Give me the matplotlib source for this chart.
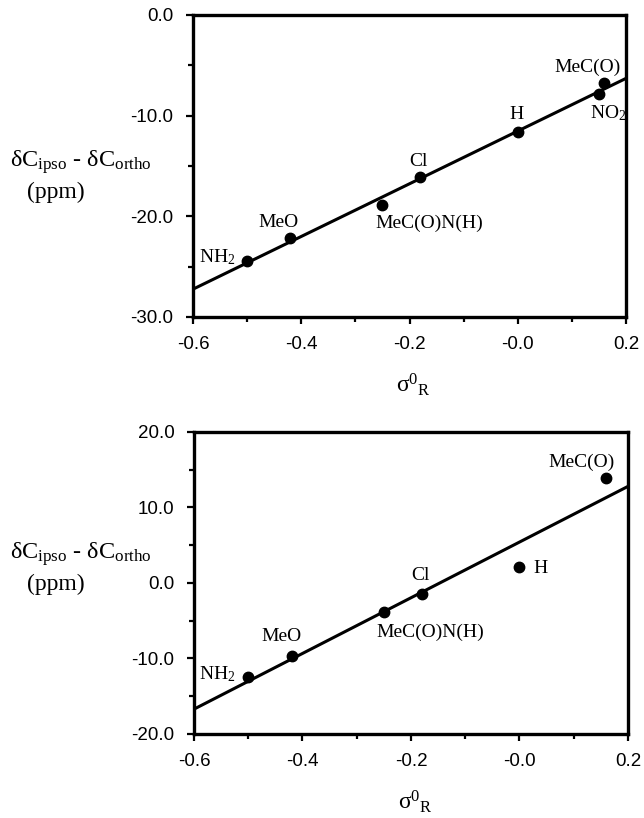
import numpy as np
import matplotlib
matplotlib.use('Agg')
import matplotlib.pyplot as plt
from matplotlib.ticker import MultipleLocator

plt.rcParams['mathtext.fontset'] = 'custom'
plt.rcParams['mathtext.rm'] = 'Liberation Serif'
plt.rcParams['mathtext.it'] = 'Liberation Serif:italic'
plt.rcParams['mathtext.bf'] = 'Liberation Serif:bold'

# ---- data ----
top_labels = ['NH$_2$', 'MeO', 'MeC(O)N(H)', 'Cl', 'H', 'MeC(O)', 'NO$_2$']
top_sigma = [-0.50, -0.42, -0.25, -0.18, 0.00, 0.16, 0.15]
top_shift = [-24.45, -22.2, -18.9, -16.1, -11.6, -6.8, -7.9]

bot_labels = ['NH$_2$', 'MeO', 'MeC(O)N(H)', 'Cl', 'H', 'MeC(O)']
bot_sigma = [-0.50, -0.42, -0.25, -0.18, 0.00, 0.16]
bot_shift = [-12.45, -9.67, -3.8, -1.46, 2.1, 13.9]

x_ticks = [-0.6, -0.4, -0.2, 0.0, 0.2]
x_ticklabels = ['-0.6', '-0.4', '-0.2', '-0.0', '0.2']
top_yticks = [0, -10, -20, -30]
top_yticklabels = ['0.0', '-10.0', '-20.0', '-30.0']
bot_yticks = [20, 10, 0, -10, -20]
bot_yticklabels = ['20.0', '10.0', '0.0', '-10.0', '-20.0']

# label offsets in pixels (style)
top_offsets = [(-30, 4), (-12, 16), (47, -18), (-2, 16), (-1, 17), (-17, 16), (9, -19)]
bot_offsets = [(-31, 3), (-10, 19), (46, -21), (-1, 19), (21, -1), (-25, 16)]

fig = plt.figure(figsize=(6.44, 8.18), dpi=100)
fig.patch.set_facecolor('white')


def draw(ax, xs, ys, labels, offsets, yticks, yticklabels, ylim):
    xs = np.asarray(xs)
    ys = np.asarray(ys)
    slope, icpt = np.polyfit(xs, ys, 1)
    xl = np.array([-0.6, 0.2])
    ax.plot(xl, slope * xl + icpt, color='black', lw=2.2, solid_capstyle='butt')
    ax.plot(xs, ys, 'o', color='black', ms=7.5)
    for x, y, lab, (dx, dy) in zip(xs, ys, labels, offsets):
        ax.annotate(lab, (x, y), xytext=(dx, dy), textcoords='offset pixels',
                    ha='center', va='center', fontsize=14,
                    family='Liberation Serif')
    ax.set_xlim(-0.6, 0.2)
    ax.set_ylim(*ylim)
    ax.set_xticks(x_ticks)
    ax.set_xticklabels(x_ticklabels)
    ax.set_yticks(yticks)
    ax.set_yticklabels(yticklabels)
    ax.xaxis.set_minor_locator(MultipleLocator(0.1))
    ax.yaxis.set_minor_locator(MultipleLocator(5))
    ax.tick_params(which='both', direction='out', width=1.6, top=False, right=False,
                   labelsize=13.5)
    ax.tick_params(which='major', length=5)
    ax.tick_params(which='minor', length=3.5)
    ax.tick_params(axis='y', which='major', pad=9)
    ax.tick_params(axis='x', which='major', pad=9)
    for lab in ax.get_xticklabels() + ax.get_yticklabels():
        lab.set_family('Liberation Sans')
    for sp in ax.spines.values():
        sp.set_linewidth(2.4)


ax1 = fig.add_axes([0.2997, 0.6125, 0.6724, 0.3692])
draw(ax1, top_sigma, top_shift, top_labels, top_offsets,
     top_yticks, top_yticklabels, (-30, 0))

ax2 = fig.add_axes([0.3012, 0.1027, 0.6739, 0.3692])
draw(ax2, bot_sigma, bot_shift, bot_labels, bot_offsets,
     bot_yticks, bot_yticklabels, (-20, 20))

ylab1 = r'δC$_{\mathrm{ipso}}$ - δC$_{\mathrm{ortho}}$'
for base1, base2 in [(0.7958, 0.7579), (0.3166, 0.2787)]:
    fig.text(0.0155, base1, ylab1, ha='left', va='baseline', fontsize=17.5,
             family='Liberation Serif')
    fig.text(0.0419, base2, '(ppm)', ha='left', va='baseline', fontsize=17,
             family='Liberation Serif')

xlab = r'σ$^{0}{}_{\mathrm{R}}$'
fig.text(0.6413, 0.5293, xlab, ha='center', va='center', fontsize=17,
         family='Liberation Serif')
fig.text(0.6444, 0.0196, xlab, ha='center', va='center', fontsize=17,
         family='Liberation Serif')

fig.savefig('out.png', dpi=100, facecolor='white')
